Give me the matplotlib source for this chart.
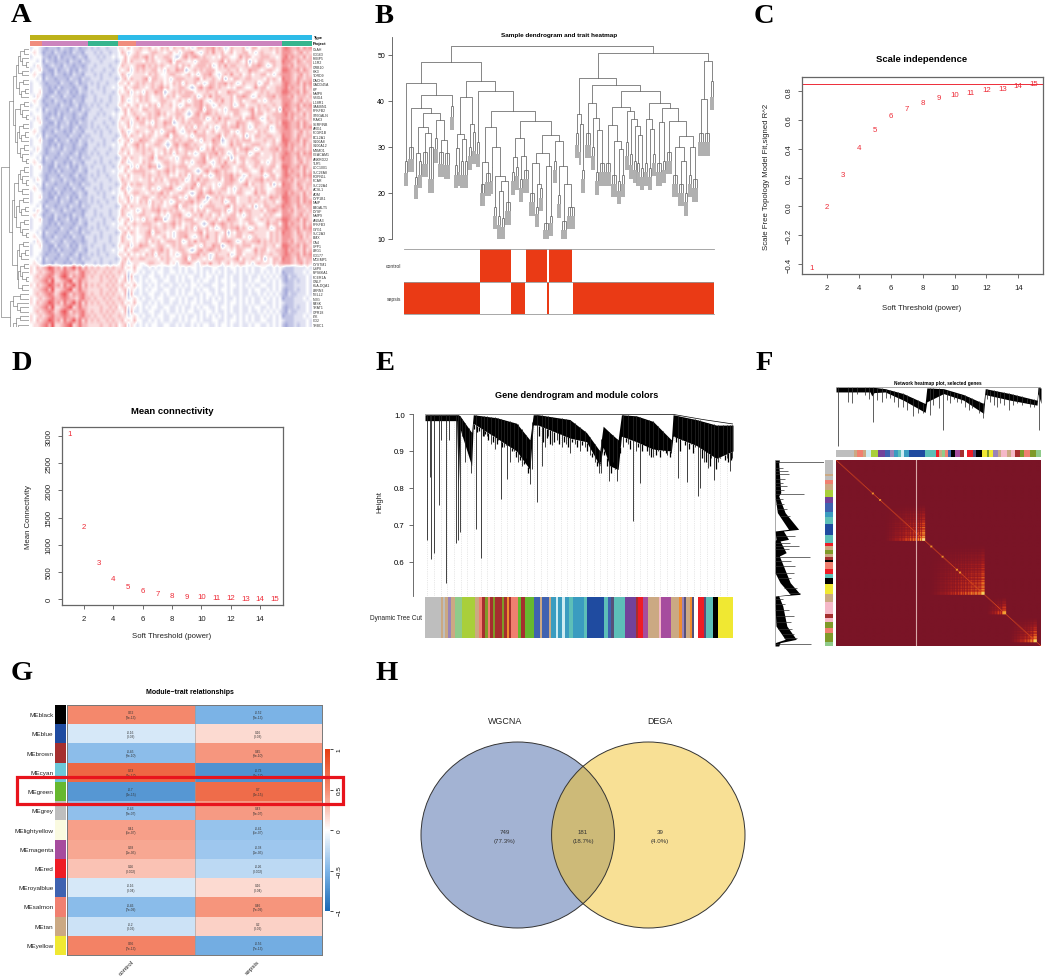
import numpy as np
import matplotlib
matplotlib.use("Agg")
from matplotlib import pyplot as plt
from matplotlib.colors import LinearSegmentedColormap
from matplotlib.patches import Ellipse, Rectangle

W, H = 1045, 978
plt.rcParams['font.family'] = ['Liberation Sans', 'DejaVu Sans']

# ---------- colours of the WGCNA modules
MOD = {'grey': '#BEBEBE', 'tan': '#CBA983', 'salmon': '#F08070', 'purple': '#73429A', 'magenta': '#A64C9E',
       'green': '#66B82E', 'brown': '#A52F2F', 'blue': '#1F4BA0', 'royal': '#3F62B0', 'turq': '#5DBFB8',
       'cyan': '#6CC8D8', 'steel': '#3A9CC0', 'pale': '#CDEBF2', 'lime': '#A9CF3A', 'mint': '#8FCB8A',
       'red': '#EE1C25', 'pink': '#F5B8C8', 'black': '#000000', 'yellow': '#F0E832', 'white': '#FFFFFF',
       'orange': '#EE8C30', 'mauve': '#9A83B8', 'slate': '#565078', 'olive': '#7F9A28', 'cream': '#FAFAE0'}

# ---------- panel A
genes = ['OLAH', 'CD163', 'FKBP5', 'IL1R2', 'GRB10', 'HK3', 'TDRD9', 'DACH1', 'GADD45A', 'HP', 'MMP8', 'VSIG4',
         'IL18R1', 'SAMSN1', 'PFKFB2', 'ST6GALN', 'IRAK3', 'SERPINB', 'ARG1', 'FCGR1B', 'BCL2A1', 'S100A8',
         'S100A12', 'MSMO1', 'CEACAM1', 'ANKRD22', 'TLR5', 'LOC1001', 'SLC26A8', 'ROPN1L', 'FCAR', 'SLC22A4',
         'ACSL1', 'ADM', 'CYP1B1', 'NAIP', 'B4GALT5', 'DYSF', 'MMP9', 'ANXA3', 'PFKFB3', 'GYG1', 'SLC2A3', 'BMX',
         'CA4', 'UPP1', 'LRG1', 'CD177', 'MCEMP1', 'CYSTM1', 'USP8', 'RPS6KA1', 'FCER1A', 'GNLY', 'HLA-DQA1',
         'LRRN3', 'NELL2', 'NOG', 'PASK', 'TRAT1', 'GPR18', 'ITK', 'CD2', 'TRBC1']
type_runs = [('#BDB21A', 29), ('#2DBBE8', 64)]
project_runs = [('#F08C7E', 4), ('#CC84BE', 15), ('#36B58E', 10), ('#F08C7E', 6), ('#CC84BE', 48), ('#36B58E', 10)]
# digit per sample, 4 = white, below is blue, above is red
up_patterns = [
    "3443 212221322123122 3232332333 554645 565564546563 655645346656 675653465556 346645556565 7876675767",
    "4543 122132212132213 3323233233 465345 456655456453 566754356575 564564556645 356555465654 7776567565",
    "3444 221213122212321 3332323343 446456 655456567564 556654246756 765655454665 445756645566 7867665756",
    "4434 132212221322132 2333233332 356465 546565455673 665545356665 556746556546 254665566555 8776576566",
    "4354 212322132212212 3323333233 465545 565455646564 566656346575 665556466765 346556675656 7767566656",
    "3445 221131223121322 3233323323 545635 456565566453 655766245656 566645556556 455766545665 8876675765",
]
down_patterns = [
    "5465 679867586796857 5656556565 564546 443343434334 334343443433 344334344343 434334433434 3222333343",
    "4556 786955678956866 5555655656 456354 343434433443 343433434344 334344343343 343443343434 2122323343",
    "5456 567866787665786 6565565655 655345 434334344334 434343343434 343434334343 434334343434 1222333434",
    "4565 678756897576786 5655656565 546263 343344334343 343434433434 434334343343 343343434343 2132233343",
]
up_rows = [0, 1, 2, 3, 4, 5, 1, 3, 0, 2, 5, 4, 1, 0, 3, 2, 4, 5, 0, 1, 3, 5, 2, 4, 0, 3, 1, 5, 2, 0, 4, 3, 1, 2, 5, 0,
           3, 4, 1, 5, 2, 0, 3, 1, 4, 5, 2, 0, 3, 1]
down_rows = [0, 2, 3, 1, 0, 1, 3, 2, 0, 1, 3, 2, 0, 1]
# how far each gene's sepsis part sits from its pattern, so rows do not line up in bands
up_shift = [0, 3, -5, 1, 7, -2, 9, -7, 4, 0, -9, 2, 6, -4, 11, -1, 5, -6, 8, -3, 0, 10, -8, 3, 1, -5, 7, -11, 2, 6,
            -2, 9, -4, 0, 5, -7, 3, 12, -1, -9, 4, 8, -6, 1, -3, 10, 0, -5, 6, 2]
ga = [62, [72, 0, 0], [66, 0, [78, 0, 0]]]
gb = [58, [70, 0, 0], [64, [74, 0, 0], 0]]
gc = [54, ga, [68, 0, 0]]
a_upper = [30, [40, [50, gc, gb], [46, ga, [52, gb, ga]]], [38, [44, gc, [50, gb, ga]], [52, gb, gc]]]
a_lower = [32, [42, [60, 0, 0], [52, 0, [60, 0, 0]]], [40, [48, [62, 0, 0], [56, 0, 0]], [46, [58, 0, [66, 0, 0]], [60, 0, 0]]]]
a_tree = [5, a_upper, a_lower]

# ---------- panel B, merges are lists, end clusters are tuples (height, leaves, hang)
b_a = [43.9, (27, 2, 2.6), [41.3, [38.5, (30, 3, 2.6), [37.3,
       [34.4, [28.6, (23.5, 2, 1.8), (27, 2, 3)], [33, (29, 3, 2.6), (30, 3, 7)]],
       [35.9, (32, 2, 2.5), [31.6, (29, 3, 2.6), (28.6, 3, 2.6)]]]], (39, 2, 2.5)]]
b_l = [40.8, [32.8, [29.7, (26, 2, 2), (26.5, 1, 2)], [31.7, (27, 2, 3), (26.9, 2, 3)]], [35, (30, 2, 2), (33.2, 2, 4)]]
b_m = [34.3, [26.7, (22, 3, 2), (24.3, 3, 2)], [30, (25.6, 1, 3), [23.6, (17, 2, 2), [22.7, [20.5, (15, 2, 2), (14.5, 2, 2)], (18, 3, 2)]]]]
b_n = [31.9, [27.8, (24.5, 2, 2), (25.6, 2, 2)], [28, (23, 2, 2), (25, 3, 2)]]
b_p = [28.6, [26.5, (20, 3, 2), [22, (17, 2, 1.5), (21, 2, 2)]], [25.8, (13.5, 3, 1.5), (15, 2, 1.5)]]
b_q = [31.3, (27, 2, 2), [25.8, (19.5, 2, 2), [22, (14, 3, 2), (17, 4, 2)]]]
b_left2 = [44.3, b_l, [42.2, (31, 2, 2.5), [37.8, b_m, [35.7, b_n, [32.6, b_p, b_q]]]]]
b_r1 = [37.2, (33, 2, 2.5), [35, (31, 1, 2), (25, 2, 2)]]
b_r2 = [39.5, (33, 3, 2.5), [36.4, (30, 2, 2), [33.6, (24.5, 2, 2), (26.5, 3, 2)]]]
b_r3 = [34.8, (26.5, 3, 2), [31.4, (24, 3, 2), [29.5, (22.5, 2, 2), (24, 2, 2)]]]
b_r4 = [37.9, (31, 2, 3), [36, (28.5, 2, 2.5), [34.5, (27, 2, 2), [32.5, (26.5, 2, 2), (25.5, 2, 2)]]]]
b_r5 = [36, (26.5, 2, 2), [34, (25.5, 2, 2), (28.5, 2, 2)]]
b_r6 = [35.4, (26.5, 3, 2), (27, 2, 2)]
b_r7 = [35.7, (29, 3, 2), [32.3, [30, (24, 3, 2), [27, (22, 3, 2), (20, 2, 2)]], [30, (24, 2, 2), (23, 3, 2)]]]
b_right1 = [45, b_r1, [43.5, b_r2, [42.1, [38.6, b_r3, b_r4], [39.5, b_r5, [38.4, b_r6, b_r7]]]]]
b_right2 = [48.7, [40.4, (33, 3, 2), (33, 3, 2)], (44.4, 2, 3.5)]
b_tree = [52, [48.5, b_a, b_left2], [50.4, b_right1, b_right2]]
trait_names = ['control', 'sepsis']
control_on = [(360, 453), (497, 560), (568, 638)]
sepsis_on = [(132, 360), (453, 495), (560, 567), (640, 1063)]

# ---------- panels C and D
powers = list(range(1, 16))
fit_r2 = [-0.425, 0.0, 0.22, 0.41, 0.535, 0.63, 0.68, 0.72, 0.755, 0.775, 0.795, 0.815, 0.82, 0.84, 0.855]
r2_cut = 0.85
mean_conn = [3040, 1330, 680, 385, 235, 150, 100, 70, 50, 38, 28, 20, 15, 12, 8]

# ---------- panel E
e_x = [165, 260, 265, 270, 305, 310, 380, 440, 480, 490, 497, 505, 600, 650, 690, 700, 720, 745, 755, 800, 850, 905, 910, 980, 1040, 1090]
e_top = [.998, .998, .998, .995, .95, .998, .99, .975, .93, .998, .998, .998, .985, .95, .90, .967, .95, .93, .998, .995, .98, .93, .998, .985, .97, .97]
e_low = [.982, .982, .80, .96, .86, .975, .935, .90, .85, .97, .97, .97, .935, .925, .86, .91, .86, .85, .94, .925, .905, .90, .94, .915, .88, .90]
e_drop_x = [172, 183, 180, 191, 208, 214, 227, 237, 257, 264, 270, 276, 285, 296, 303, 318, 333, 342, 350, 362, 375, 385, 392, 403, 412, 420,
            432, 443, 455, 468, 480, 487, 501, 515, 525, 535, 545, 560, 575, 588, 600, 615, 630, 645, 660, 675, 687, 695, 718, 730, 743,
            760, 775, 790, 800, 812, 825, 838, 850, 865, 880, 893, 905, 925, 938, 952, 965, 975, 984, 990, 1003, 1015, 1025, 1032, 1045, 1060, 1072, 1080, 1088]
e_drop_to = [.66, .608, .83, .623, .755, .93, .543, .93, .65, .66, .682, .94, .87, .90, .84, .688, .61, .94, .94, .92, .905, .93, .77, .91, .825, .87,
             .90, .87, .86, .88, .81, .85, .763, .86, .91, .94, .915, .93, .91, .92, .895, .92, .90, .91, .89, .87, .84, .84, .82, .87, .82,
             .91, .92, .71, .90, .813, .92, .89, .885, .90, .90, .89, .895, .826, .93, .815, .92, .91, .777, .80, .87, .855, .88, .822, .87, .89, .88, .845, .88]
# short teeth along the underside of the black band
e_teeth = [(312, .96), (322, .95), (328, .955), (338, .94), (346, .945), (355, .93), (368, .925), (380, .92), (397, .91), (408, .915), (426, .90), (438, .885),
           (450, .875), (462, .865), (474, .84), (508, .94), (520, .925), (530, .935), (540, .92), (552, .925), (566, .92), (582, .925), (594, .91), (607, .925),
           (622, .91), (638, .915), (652, .90), (668, .885), (682, .86), (704, .89), (712, .86), (724, .84), (736, .85), (750, .91), (768, .925), (782, .905),
           (806, .91), (818, .90), (832, .90), (844, .885), (858, .89), (872, .885), (888, .895), (900, .885), (918, .925), (932, .90), (945, .915), (958, .905),
           (970, .895), (996, .88), (1008, .87), (1020, .86), (1038, .85), (1052, .88), (1066, .875), (1076, .87), (1085, .875)]
e_ridge_x = [165, 910, 1000, 1090]
e_ridge_h = [1.0, .999, .985, .973]
e_strip = ['grey', 'tan', 'grey', 'tan', 'mauve', 'tan', 'mint', 'lime', 'tan', 'salmon', 'brown', 'olive', 'salmon', 'brown', 'olive', 'brown',
           'olive', 'brown', 'orange', 'brown', 'salmon', 'green', 'brown', 'green', 'royal', 'tan', 'royal', 'tan', 'steel', 'pale', 'steel', 'pale',
           'steel', 'turq', 'steel', 'turq', 'blue', 'turq', 'royal', 'slate', 'turq', 'purple', 'brown', 'red', 'magenta', 'tan', 'pink', 'magenta',
           'tan', 'orange', 'mauve', 'slate', 'tan', 'orange', 'slate', 'white', 'red', 'slate', 'turq', 'black', 'yellow']
e_widths = [47, 5, 6, 9, 8, 10, 22, 36, 10, 10, 8, 8, 8, 6, 6, 20, 6, 8, 6, 6, 22, 8, 10, 27, 16, 7, 20, 6, 14, 6, 10, 8,
            13, 12, 30, 8, 50, 10, 10, 8, 32, 30, 6, 15, 14, 32, 6, 27, 25, 8, 5, 7, 10, 5, 6, 12, 18, 4, 20, 16, 42]

# ---------- panel F
f_top_x = [198, 300, 305, 312, 345, 400, 465, 470, 520, 580, 640, 645, 720, 800, 803, 812]
f_top_a = [146, 146, 146, 146, 150, 165, 195, 148, 150, 168, 195, 150, 165, 185, 146, 148]
f_top_b = [160, 160, 172, 162, 160, 185, 222, 190, 165, 185, 225, 168, 185, 200, 165, 195]
f_top_drop_x = [204, 235, 245, 262, 285, 298, 310, 322, 335, 348, 360, 372, 385, 398, 410, 428, 445, 460, 480, 490, 505, 518, 530, 540, 552, 560, 572, 585, 595, 605, 625, 637,
                650, 660, 670, 680, 690, 700, 715, 728, 740, 755, 770, 780, 790, 805]
f_top_drop_to = [325, 190, 195, 165, 170, 180, 250, 185, 190, 178, 178, 190, 205, 205, 215, 232, 225, 225, 230, 200, 210, 275, 185, 195, 180, 190, 195, 205, 215, 210, 225, 238,
                 180, 190, 200, 205, 195, 200, 215, 200, 195, 200, 195, 205, 205, 275]
f_left_y = [362, 372, 460, 470, 520, 570, 575, 600, 605, 640, 650, 700, 730, 765, 770, 800, 860, 900, 910, 920]
f_left_a = [15, 15, 15, 15, 22, 55, 15, 18, 15, 15, 15, 15, 30, 60, 15, 15, 18, 45, 15, 15]
f_left_b = [28, 26, 32, 26, 45, 85, 40, 55, 30, 48, 28, 48, 60, 90, 26, 38, 50, 78, 30, 26]
f_left_drop_y = [367, 385, 395, 405, 418, 430, 440, 452, 463, 480, 495, 510, 530, 590, 612, 620, 630, 652, 665, 680, 700, 715, 745, 760, 780, 795, 812, 830, 848, 870, 885, 895, 915]
f_left_drop_to = [160, 40, 52, 55, 45, 38, 50, 42, 100, 40, 42, 50, 60, 75, 60, 85, 55, 120, 62, 75, 70, 62, 80, 90, 38, 45, 55, 70, 62, 65, 72, 80, 122]
f_strip_top = ['grey', 'tan', 'salmon', 'tan', 'pale', 'lime', 'purple', 'royal', 'mauve', 'steel', 'turq', 'pale', 'steel', 'blue', 'turq', 'red', 'tan', 'mint',
               'salmon', 'royal', 'black', 'magenta', 'brown', 'white', 'red', 'slate', 'black', 'yellow', 'olive', 'yellow', 'mauve', 'tan', 'pink', 'tan', 'pink', 'brown', 'olive', 'salmon', 'olive', 'mint']
f_strip_top_w = [42, 8, 15, 8, 10, 17, 18, 12, 10, 8, 8, 6, 14, 38, 26, 6, 8, 8, 6, 8, 8, 14, 8, 7, 16, 6, 14, 12, 6, 10, 10, 8, 14, 10, 10, 12, 10, 14, 14, 12]
f_strip_left = ['grey', 'tan', 'grey', 'salmon', 'tan', 'lime', 'purple', 'royal', 'steel', 'turq', 'blue', 'turq', 'red', 'tan', 'olive', 'tan', 'brown', 'black', 'salmon', 'red',
                'turq', 'black', 'yellow', 'tan', 'pink', 'brown', 'pink', 'olive', 'salmon', 'olive', 'mint']
f_strip_left_w = [38, 8, 10, 12, 15, 20, 18, 23, 15, 20, 31, 22, 8, 12, 10, 10, 8, 6, 18, 15, 12, 16, 27, 22, 35, 12, 10, 18, 12, 25, 12]
# bright squares of the topological overlap map: first, last, strength (fraction of the side)
tom_start = [.24, .46, .74, .85]
tom_end = [.435, .725, .83, .98]
tom_peak = [.85, .8, .65, .8]
tom_spot = [.18, .215, .465, .52, .59, .606]
tom_stripes = [1, .55, .8, .45, 1, .6, .5, .9, .55, .75]
grey_gap = .39

# ---------- panel G
me_names = ['MEblack', 'MEblue', 'MEbrown', 'MEcyan', 'MEgreen', 'MEgrey', 'MElightyellow', 'MEmagenta', 'MEred',
            'MEroyalblue', 'MEsalmon', 'MEtan', 'MEyellow']
me_colors = ['black', 'blue', 'brown', 'cyan', 'green', 'grey', 'cream', 'magenta', 'red', 'royal', 'salmon', 'tan', 'yellow']
r_control = [0.52, -0.16, -0.45, 0.73, -0.7, -0.43, 0.41, 0.38, 0.26, -0.16, -0.46, -0.2, 0.56]
r_sepsis = [-0.52, 0.16, 0.45, -0.73, 0.7, 0.43, -0.41, -0.38, -0.26, 0.16, 0.46, 0.2, -0.56]
p_vals = ['3e-13', '0.03', '9e-10', '4e-17', '4e-15', '3e-07', '5e-07', '1e-05', '0.002', '0.04', '7e-09', '0.02', '7e-13']
trait_cols = ['control', 'sepsis']

# ---------- panel H
set_names = ['WGCNA', 'DEGA']
venn_counts = [749, 181, 39]
venn_pct = ['77.3%', '18.7%', '4.0%']


fig = plt.figure(figsize=(W / 100, H / 100), dpi=100)


def ax_px(x0, y0, x1, y1):
    return fig.add_axes([x0 / W, 1 - y1 / H, (x1 - x0) / W, (y1 - y0) / H])


def walk(ax, node, leaf, base, horiz, col, lw, ends):
    if isinstance(node, int):
        leaf[0] += 1
        return leaf[0] - 1, base
    if isinstance(node, tuple):
        h, k, hang = node
        xs = [leaf[0] + i for i in range(k)]
        leaf[0] += k
        ax.plot([xs[0], xs[-1]], [h, h], color=col, lw=lw, solid_capstyle='butt')
        for x in xs:
            ax.plot([x, x], [h, h - hang], color=col, lw=lw, solid_capstyle='butt')
            ends.append((x, h - hang))
        return (xs[0] + xs[-1]) / 2, h
    h, a, b = node
    xa, ha = walk(ax, a, leaf, base, horiz, col, lw, ends)
    xb, hb = walk(ax, b, leaf, base, horiz, col, lw, ends)
    if horiz:
        ax.plot([ha, h, h, hb], [xa, xa, xb, xb], color=col, lw=lw)
    else:
        ax.plot([xa, xa, xb, xb], [ha, h, h, hb], color=col, lw=lw)
    return (xa + xb) / 2, h


def strip(ax, names, widths, vertical=False):
    start = np.cumsum([0] + widths[:-1])
    cols = [MOD[n] for n in names]
    if vertical:
        ax.barh(start, widths, height=widths, left=0, align='edge', color=cols, linewidth=0)
        ax.set_ylim(sum(widths), 0)
        ax.set_xlim(0, 1)
    else:
        ax.bar(start, [1] * len(names), width=widths, align='edge', color=cols, linewidth=0)
        ax.set_xlim(0, sum(widths))
        ax.set_ylim(0, 1)
    ax.axis('off')


def base_plot(ax, xs, ys, xlim, ylim, yticks, cut=None):
    for x, y in zip(xs, ys):
        ax.text(x, y, str(x), color='#EE2C38', fontsize=5.7, ha='center', va='center')
    if cut is not None:
        ax.axhline(cut, color='#EE2C38', lw=0.7)
    ax.set_xlim(*xlim)
    ax.set_ylim(*ylim)
    ax.set_xticks(range(2, 15, 2))
    ax.set_yticks(yticks)
    ax.tick_params(labelsize=5.6, length=3, width=0.6, color='#555555', pad=4, labelcolor='#222222')
    plt.setp(ax.get_yticklabels(), rotation=90, va='center')
    for s in ax.spines.values():
        s.set_color('#666666')
        s.set_linewidth(0.9)


# ---------- A
ax = ax_px(30, 48, 312, 328)
hm_rows = []
for i, sh in zip(up_rows, up_shift):
    row = [int(c) for c in up_patterns[i].replace(' ', '')]
    row[35:83] = np.roll(row[35:83], sh).tolist()
    hm_rows.append(row)
for i in down_rows:
    hm_rows.append([int(c) for c in down_patterns[i].replace(' ', '')])
hm = (np.array(hm_rows) - 4) / 6.5
pheat = LinearSegmentedColormap.from_list('pheat', ['#3C46AE', '#FFFFFF', '#E8242A'])
ax.imshow(hm, cmap=pheat, vmin=-1, vmax=1, aspect='auto', interpolation='bilinear')
ax.axis('off')
for runs, y0, y1 in [(type_runs, 36, 41), (project_runs, 42, 47)]:
    bar = ax_px(30, y0, 312, y1)
    left = 0
    for c, n in runs:
        bar.barh(0, n, left=left, height=1, color=c, linewidth=0)
        left += n
    bar.set_xlim(0, 93)
    bar.set_ylim(-.5, .5)
    bar.axis('off')
ax = ax_px(0, 48, 29, 328)
walk(ax, a_tree, [0], 88, True, '#7A7A7A', 0.45, [])
ax.set_xlim(3, 87)
ax.set_ylim(63.5, -.5)
ax.axis('off')

# ---------- B
ax = ax_px(404, 38, 714, 240)
ends = []
leaf = [0]
walk(ax, b_tree, leaf, 0, False, '#666666', 0.55, ends)
ex, ey = zip(*ends)
ax.vlines(ex, np.array(ey) - 2.9, ey, color='#ABABAB', lw=1.35)
ax.set_xlim(-.5, leaf[0] - .5)
ax.set_ylim(10, 53.9)
ax.set_xticks([])
ax.set_yticks([10, 20, 30, 40, 50])
ax.tick_params(labelsize=5, length=3, width=0.6, color='#555555', pad=2)
plt.setp(ax.get_yticklabels(), rotation=90, va='center')
for s in ['top', 'right', 'bottom']:
    ax.spines[s].set_visible(False)
ax.spines['left'].set_position(('outward', 8.6))
ax.spines['left'].set_color('#555555')
ax.spines['left'].set_linewidth(0.6)
ax.patch.set_alpha(0)
ax = ax_px(404, 250, 714, 315)
for row, runs in enumerate([control_on, sepsis_on]):
    for a, b in runs:
        ax.bar(a, 1, width=b - a, bottom=1 - row, align='edge', color='#EA3A15', linewidth=0)
ax.set_xlim(132, 1063)
ax.set_ylim(0, 2)
ax.set_xticks([])
ax.set_yticks([])
for s in ['left', 'right']:
    ax.spines[s].set_visible(False)
for s in ['top', 'bottom']:
    ax.spines[s].set_color('#999999')
    ax.spines[s].set_linewidth(0.6)
ax.axhline(1, color='#999999', lw=0.6)

# ---------- C
ax = ax_px(802, 78, 1043, 275)
base_plot(ax, powers, fit_r2, (0.43, 15.55), (-0.47, 0.9), [-0.4, -0.2, 0.0, 0.2, 0.4, 0.6, 0.8], cut=r2_cut)
ax.set_yticklabels(['\u22120.4', '\u22120.2', '0.0', '0.2', '0.4', '0.6', '0.8'])

# ---------- D
ax = ax_px(62, 428, 283, 606)
base_plot(ax, powers, mean_conn, (0.5, 15.57), (-110, 3166), [0, 500, 1000, 1500, 2000, 2500, 3000])

# ---------- E
ax = ax_px(425, 415, 733, 597)
ax.vlines(np.arange(172, 1090, 20), .51, np.interp(np.arange(172, 1090, 20), e_x, e_low), color='#D2D2D2', lw=0.5, linestyles=':')
ax.fill_between(e_x, e_low, e_top, color='black', linewidth=0)
ax.vlines(e_drop_x, e_drop_to, np.interp(e_drop_x, e_x, e_top), color='#222222', lw=0.6)
teeth_x, teeth_to = zip(*e_teeth)
ax.vlines(teeth_x, teeth_to, np.interp(teeth_x, e_x, e_low), color='black', lw=0.9)
ax.plot(e_ridge_x, e_ridge_h, color='black', lw=0.5)
ax.set_xlim(165, 1090)
ax.set_ylim(.508, 1.0)
ax.set_xticks([])
ax.set_yticks([.6, .7, .8, .9, 1.0])
ax.tick_params(labelsize=5.6, length=3, width=0.6, color='#555555', pad=3)
plt.setp(ax.get_yticklabels(), rotation=90, va='center')
for s in ['top', 'right', 'bottom']:
    ax.spines[s].set_visible(False)
ax.spines['left'].set_position(('outward', 8.6))
ax.spines['left'].set_color('#555555')
ax.spines['left'].set_linewidth(0.6)
strip(ax_px(425, 598, 733, 639), e_strip, e_widths)

# ---------- F
ax = ax_px(836, 388, 1041, 449)
ax.fill_between(f_top_x, f_top_a, f_top_b, color='black', linewidth=0)
ax.vlines(f_top_drop_x, np.interp(f_top_drop_x, f_top_x, f_top_a), f_top_drop_to, color='#333333', lw=0.55)
ax.plot([198, 812], [145, 145], color='#888888', lw=0.5)
ax.set_xlim(198, 812)
ax.set_ylim(330, 145)
ax.axis('off')
strip(ax_px(836, 451, 1041, 458), f_strip_top, f_strip_top_w)
ax = ax_px(775, 461, 824, 647)
ax.fill_betweenx(f_left_y, f_left_a, f_left_b, color='black', linewidth=0)
ax.hlines(f_left_drop_y, np.interp(f_left_drop_y, f_left_y, f_left_a), f_left_drop_to, color='#333333', lw=0.5)
ax.plot([15, 15], [362, 920], color='#888888', lw=0.5)
ax.set_xlim(15, 160)
ax.set_ylim(920, 362)
ax.axis('off')
strip(ax_px(825, 461, 833, 647), f_strip_left, f_strip_left_w, vertical=True)

n = 200
tom = np.zeros((n, n))
for s, e, p in zip(tom_start, tom_end, tom_peak):
    i0, i1 = int(s * n), int(e * n)
    ramp = ((np.arange(i1 - i0) + 1.0) / (i1 - i0)) ** 1.1
    stripe = np.array([tom_stripes[k % len(tom_stripes)] for k in range(i1 - i0)])
    ramp = ramp * stripe
    ramp[-3:] = 1
    tom[i0:i1, i0:i1] = np.maximum(tom[i0:i1, i0:i1], p * np.outer(ramp, ramp))
tom[np.arange(n), np.arange(n)] = np.maximum(tom[np.arange(n), np.arange(n)], .42)
for s in tom_spot:
    k = int(s * n)
    tom[k - 1:k + 1, k - 1:k + 1] = .6
ax = ax_px(836, 461, 1041, 647)
hot = LinearSegmentedColormap.from_list('tom', ['#7A1426', '#A31C1E', '#D8401A', '#F0902A', '#F8D060', '#FFF8D0'])
ax.imshow(tom, cmap=hot, vmin=0, vmax=1, aspect='auto', interpolation='bilinear', extent=(0, 1, 1, 0))
ax.axvline(grey_gap, color='#D9A9A9', lw=0.8)
ax.axis('off')

# ---------- G
ax = ax_px(67, 706, 322, 956)
bwr = LinearSegmentedColormap.from_list('bwr2', ['#1A69B5', '#7FB6E8', '#FFFFFF', '#F58B70', '#E63E12'])
r_mat = np.column_stack([r_control, r_sepsis])
mesh = ax.pcolormesh(r_mat, cmap=bwr, vmin=-1, vmax=1, edgecolors='none')
ax.set_ylim(len(me_names), 0)
ax.set_xticks([])
ax.set_yticks([])
for s in ax.spines.values():
    s.set_color('#777777')
    s.set_linewidth(0.7)
ax.axvline(1, color='#999999', lw=0.4)
for i, (a, b, p) in enumerate(zip(r_control, r_sepsis, p_vals)):
    ax.text(.5, i + .5, '%g\n(%s)' % (a, p), fontsize=2.3, ha='center', va='center', color='#333333', linespacing=1.2)
    ax.text(1.5, i + .5, '%g\n(%s)' % (b, p), fontsize=2.3, ha='center', va='center', color='#333333', linespacing=1.2)
strip(ax_px(55, 706, 66, 956), me_colors, [1] * len(me_colors), vertical=True)
cax = ax_px(325, 750, 330, 912)
cb = fig.colorbar(mesh, cax=cax)
cb.set_ticks([-1, -.5, 0, .5, 1])
cb.set_ticklabels(['\u22121', '\u22120.5', '0', '0.5', '1'])
cax.tick_params(labelsize=4.6, length=2.5, width=0.5, pad=2, rotation=90)
plt.setp(cax.get_yticklabels(), va='center')
cb.outline.set_visible(False)

# ---------- H
ax = ax_px(421, 743, 745, 929)
ax.set_xlim(-1, 2.35)
ax.set_ylim(-1, 1)
ax.axis('off')
left_c = Ellipse((0, 0), 2, 2, facecolor='#A3B3D3', edgecolor='none', clip_on=False)
right_c = Ellipse((1.35, 0), 2, 2, facecolor='#F8E095', edgecolor='none', clip_on=False)
ax.add_patch(left_c)
ax.add_patch(right_c)
both = Ellipse((1.35, 0), 2, 2, facecolor='#CDBA78', edgecolor='none')
ax.add_patch(both)
both.set_clip_path(left_c)
ax.add_patch(Ellipse((0, 0), 2, 2, fill=False, edgecolor='#333333', lw=0.7, clip_on=False))
ax.add_patch(Ellipse((1.35, 0), 2, 2, fill=False, edgecolor='#333333', lw=0.7, clip_on=False))

# ---------- texts, in pixels of the figure
over = fig.add_axes([0, 0, 1, 1], zorder=20)
over.set_xlim(0, W)
over.set_ylim(H, 0)
over.axis('off')
letters = ['A', 'B', 'C', 'D', 'E', 'F', 'G', 'H']
letter_x = [11, 375, 754, 11, 376, 756, 11, 375]
letter_y = [22, 23, 23, 370, 370, 370, 680, 680]
for s, x, y in zip(letters, letter_x, letter_y):
    over.text(x, y, s, family=['Liberation Serif'], fontweight='bold', fontsize=20.5, ha='left', va='baseline', color='black')

for i, g in enumerate(genes):
    over.text(313, 48 + (i + .5) * 280 / 64, g, fontsize=2.5, va='center', color='#333333')
over.text(313, 38.5, 'Type', fontsize=2.9, fontweight='bold', va='center')
over.text(313, 44.5, 'Project', fontsize=2.9, fontweight='bold', va='center')

over.text(559, 35, 'Sample dendrogram and trait heatmap', fontsize=4.6, fontweight='bold', ha='center', va='center')
over.text(401, 267, trait_names[0], fontsize=3.6, ha='right', va='center', color='#333333')
over.text(401, 299, trait_names[1], fontsize=3.6, ha='right', va='center', color='#333333')

over.text(922, 59, 'Scale independence', fontsize=6.8, fontweight='bold', ha='center', va='center')
over.text(922, 309, 'Soft Threshold (power)', fontsize=5.6, ha='center', va='center', color='#222222')
over.text(767, 177, 'Scale Free Topology Model Fit,signed R^2', fontsize=5.6, rotation=90, ha='center', va='center', color='#222222')

over.text(172, 411, 'Mean connectivity', fontsize=6.8, fontweight='bold', ha='center', va='center')
over.text(172, 636, 'Soft Threshold (power)', fontsize=5.6, ha='center', va='center', color='#222222')
over.text(29, 517, 'Mean Connectivity', fontsize=5.6, rotation=90, ha='center', va='center', color='#222222')

over.text(577, 395, 'Gene dendrogram and module colors', fontsize=6.6, fontweight='bold', ha='center', va='center')
over.text(380, 502, 'Height', fontsize=5.4, rotation=90, ha='center', va='center', color='#222222')
over.text(422, 619, 'Dynamic Tree Cut', fontsize=4.7, ha='right', va='center', color='#222222')

over.text(938, 383, 'Network heatmap plot, selected genes', fontsize=3.4, fontweight='bold', ha='center', va='center')

over.text(190, 693, 'Module\u2212trait relationships', fontsize=5, fontweight='bold', ha='center', va='center')
for i, s in enumerate(me_names):
    over.text(53.5, 706 + (i + .5) * 250 / 13, s, fontsize=4.6, ha='right', va='center', color='#222222')
over.text(126, 968, trait_cols[0], fontsize=4.6, rotation=45, ha='center', va='center', color='#222222')
over.text(252, 968, trait_cols[1], fontsize=4.6, rotation=45, ha='center', va='center', color='#222222')
over.add_patch(Rectangle((17, 777.5), 326, 27, fill=False, edgecolor='#E8141C', lw=2.3))

over.text(505, 721, set_names[0], fontsize=6.4, ha='center', va='center', color='#222222')
over.text(660, 721, set_names[1], fontsize=6.4, ha='center', va='center', color='#222222')
for x, c, p in zip([505, 583, 660], venn_counts, venn_pct):
    over.text(x, 832, str(c), fontsize=4.4, ha='center', va='center', color='#333333')
    over.text(x, 842, '(%s)' % p, fontsize=4.4, ha='center', va='center', color='#333333')

fig.savefig('out.png', dpi=100)
